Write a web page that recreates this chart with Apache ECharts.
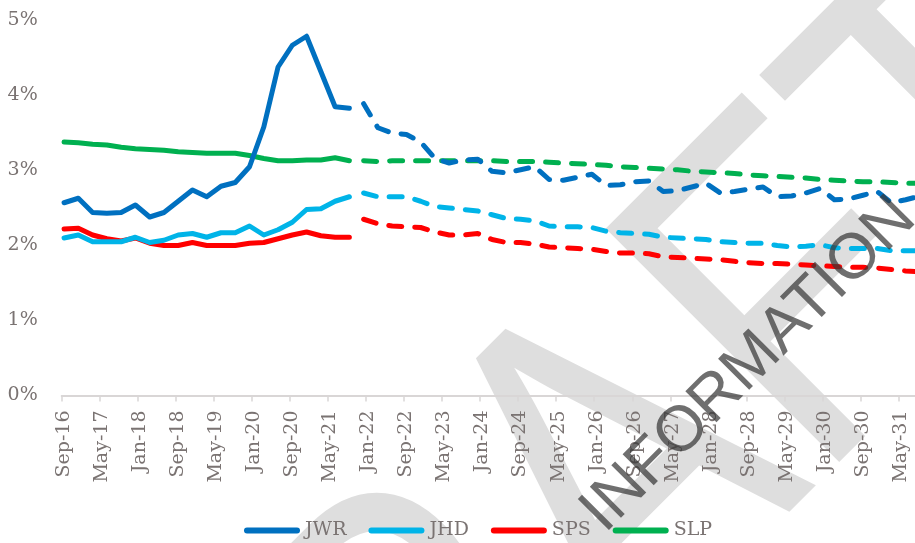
<!DOCTYPE html>
<html>
<head>
<meta charset="utf-8">
<script src="https://cdn.jsdelivr.net/npm/echarts@6/dist/echarts.min.js"></script>
<style>
  html, body { margin: 0; padding: 0; background: #ffffff; }
  #chart { width: 915px; height: 543px; }
</style>
</head>
<body>
<div id="chart"></div>
<script>
// Monthly category axis, Sep-16 onwards
const monthNames = ['Jan','Feb','Mar','Apr','May','Jun','Jul','Aug','Sep','Oct','Nov','Dec'];
const months = [];
for (let i = 0; i < 184; i++) {
  const m = (8 + i) % 12;
  const y = 16 + Math.floor((8 + i) / 12);
  months.push(monthNames[m] + '-' + y);
}

// Quarterly observation dates (actuals) and projection dates
const histQuarters = ['Sep-16','Dec-16','Mar-17','Jun-17','Sep-17','Dec-17','Mar-18','Jun-18','Sep-18','Dec-18',
  'Mar-19','Jun-19','Sep-19','Dec-19','Mar-20','Jun-20','Sep-20','Dec-20','Mar-21','Jun-21','Sep-21'];
const projQuarters = ['Dec-21','Mar-22','Jun-22','Sep-22','Dec-22','Mar-23','Jun-23','Sep-23','Dec-23',
  'Mar-24','Jun-24','Sep-24','Dec-24','Mar-25','Jun-25','Sep-25','Dec-25','Mar-26','Jun-26','Sep-26','Dec-26',
  'Mar-27','Jun-27','Sep-27','Dec-27','Mar-28','Jun-28','Sep-28','Dec-28','Mar-29','Jun-29','Sep-29','Dec-29',
  'Mar-30','Jun-30','Sep-30','Dec-30','Mar-31','Jun-31','Sep-31','Dec-31'];

// Values in percent
const jwrHist = [2.57,2.63,2.44,2.43,2.44,2.54,2.38,2.44,2.59,2.74,2.65,2.79,2.84,3.05,3.58,4.38,4.67,4.79,4.32,3.85,3.83];
const jwrProj = [3.89,3.57,3.50,3.48,3.38,3.16,3.10,3.14,3.15,2.99,2.97,3.01,3.05,2.88,2.87,2.91,2.95,2.80,2.81,2.85,2.86,
  2.72,2.73,2.78,2.83,2.70,2.72,2.75,2.78,2.65,2.66,2.70,2.76,2.61,2.62,2.67,2.72,2.57,2.61,2.66,2.70];

const jhdHist = [2.10,2.14,2.05,2.05,2.05,2.11,2.04,2.07,2.14,2.16,2.11,2.17,2.17,2.26,2.14,2.21,2.31,2.48,2.49,2.59,2.65];
const jhdProj = [2.70,2.65,2.65,2.65,2.59,2.52,2.50,2.48,2.46,2.41,2.36,2.35,2.33,2.26,2.25,2.25,2.24,2.19,2.17,2.16,2.15,
  2.11,2.10,2.09,2.08,2.05,2.04,2.03,2.03,2.00,1.98,1.99,2.01,1.97,1.96,1.96,1.96,1.93,1.93,1.93,1.92];

const spsHist = [2.22,2.23,2.14,2.09,2.06,2.10,2.03,2.00,2.00,2.04,2.00,2.00,2.00,2.03,2.04,2.09,2.14,2.18,2.13,2.11,2.11];
const spsProj = [2.35,2.29,2.26,2.25,2.24,2.18,2.14,2.14,2.16,2.08,2.04,2.04,2.02,1.98,1.97,1.96,1.95,1.92,1.90,1.90,1.89,
  1.85,1.84,1.83,1.82,1.81,1.79,1.77,1.76,1.76,1.75,1.74,1.73,1.72,1.71,1.71,1.70,1.68,1.66,1.65,1.64];

const slpHist = [3.38,3.37,3.35,3.34,3.31,3.29,3.28,3.27,3.25,3.24,3.23,3.23,3.23,3.20,3.16,3.13,3.13,3.14,3.14,3.17,3.13];
const slpProj = [3.13,3.12,3.13,3.13,3.13,3.13,3.13,3.13,3.13,3.13,3.12,3.12,3.12,3.11,3.10,3.09,3.08,3.07,3.05,3.04,3.03,
  3.02,3.01,2.99,2.98,2.97,2.96,2.94,2.93,2.92,2.91,2.90,2.88,2.87,2.86,2.85,2.85,2.84,2.83,2.83,2.82];

const yTicks = [0, 1, 2, 3, 4, 5];

const colors = { JWR: '#0070C0', JHD: '#00B4E8', SPS: '#FF0000', SLP: '#00B050' };
const textColor = '#7a7372';
const serif = '"DejaVu Serif", "Liberation Serif", serif';
const diag = 45 * Math.PI / 180;

function lineSeries(name, dates, values, dashed, z) {
  return {
    type: 'line',
    name: name,
    data: dates.map((d, k) => [d, values[k]]),
    symbol: 'none',
    silent: true,
    z: z,
    lineStyle: {
      color: colors[name],
      width: 5,
      type: dashed ? [13, 13] : 'solid',
      cap: 'round',
      join: 'round'
    },
    itemStyle: { color: colors[name] }
  };
}

const chart = echarts.init(document.getElementById('chart'), null, { renderer: 'canvas' });

chart.setOption({
  animation: false,
  backgroundColor: '#ffffff',
  grid: {
    left: 61.7,
    top: 20.5,
    width: 874.9,
    height: 375,
    containLabel: false,
    outerBoundsMode: 'none'
  },
  legend: {
    data: ['JWR', 'JHD', 'SPS', 'SLP'],
    left: 239,
    top: 516,
    itemWidth: 56,
    itemHeight: 6,
    itemGap: 22,
    icon: 'path://M3,0H53A3,3,0,0,1,53,6H3A3,3,0,0,1,3,0Z',
    textStyle: { fontFamily: serif, fontSize: 19, color: textColor },
    selectedMode: false
  },
  xAxis: {
    type: 'category',
    data: months,
    boundaryGap: true,
    axisLine: { show: true, lineStyle: { color: '#d9d6d6', width: 2 } },
    axisTick: { show: true, interval: 7, length: 6, lineStyle: { color: '#d9d6d6', width: 1.5 } },
    axisLabel: {
      interval: 7,
      rotate: 90,
      margin: 15,
      fontFamily: serif,
      fontSize: 19,
      color: textColor
    },
    splitLine: { show: false }
  },
  yAxis: {
    type: 'value',
    min: yTicks[0],
    max: yTicks[yTicks.length - 1],
    interval: 1,
    axisLine: { show: false },
    axisTick: { show: false },
    splitLine: { show: false },
    axisLabel: {
      formatter: '{value}%',
      margin: 24,
      fontFamily: serif,
      fontSize: 19,
      color: textColor
    }
  },
  graphic: {
    elements: [
      {
        type: 'text',
        x: 599,
        y: 515,
        rotation: diag,
        scaleX: 0.82,
        z: -10,
        silent: true,
        style: {
          text: 'DRAFT',
          font: '480px "Liberation Sans", Arial, sans-serif',
          fill: '#dedede',
          align: 'center',
          verticalAlign: 'middle'
        }
      },
      {
        type: 'text',
        x: 749,
        y: 365,
        rotation: diag,
        z: 100,
        silent: true,
        style: {
          text: 'INFORMATION',
          font: '64px "Liberation Sans", Arial, sans-serif',
          fill: 'rgba(55,55,55,0.72)',
          align: 'center',
          verticalAlign: 'middle'
        }
      }
    ]
  },
  series: [
    lineSeries('SLP', histQuarters, slpHist, false, 3),
    lineSeries('SLP', projQuarters, slpProj, true, 3),
    lineSeries('SPS', histQuarters, spsHist, false, 4),
    lineSeries('SPS', projQuarters, spsProj, true, 4),
    lineSeries('JHD', histQuarters, jhdHist, false, 5),
    lineSeries('JHD', projQuarters, jhdProj, true, 5),
    lineSeries('JWR', histQuarters, jwrHist, false, 6),
    lineSeries('JWR', projQuarters, jwrProj, true, 6)
  ]
});
</script>
</body>
</html>
